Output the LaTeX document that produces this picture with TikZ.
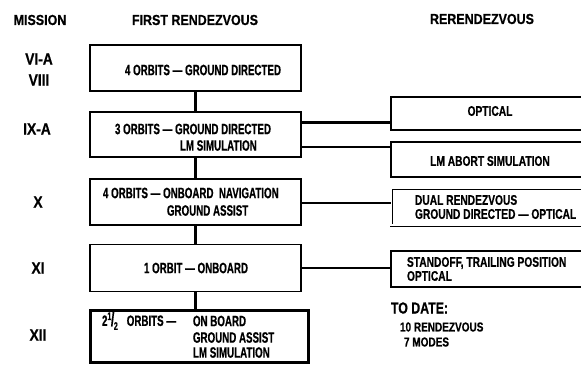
\documentclass[tikz,border=0pt]{standalone}
\usepackage{fontspec}
\setmainfont{Liberation Sans}[FakeStretch=0.65, FakeBold=0.6]
\newfontfamily\rfont{Liberation Sans}[FakeStretch=0.73, FakeBold=0.6]
\newfontfamily\hfont{Liberation Sans}[FakeStretch=0.86, FakeBold=0.6]
\newfontfamily\dfont{Liberation Sans}[FakeStretch=0.77, FakeBold=0.6]
\tikzset{
  every node/.style={inner sep=0pt, outer sep=0pt},
  boxL/.style={draw, line width=1.1pt, minimum width=211pt},
  boxR/.style={draw, line width=1.1pt, minimum width=199pt},
  boxD/.style={draw, line width=0.7pt, double, double distance=1.6pt, minimum width=199pt},
  tl/.style={font=\fontsize{15}{15}\selectfont\bfseries},
  tr/.style={font=\rfont\fontsize{14}{14}\selectfont\bfseries},
  hd/.style={font=\hfont\fontsize{14.5}{14.5}\selectfont\bfseries},
  ms/.style={font=\hfont\fontsize{16}{16}\selectfont\bfseries},
  td/.style={font=\dfont\fontsize{16}{16}\selectfont\bfseries},
  tdsmall/.style={font=\dfont\fontsize{13}{13}\selectfont\bfseries},
  conn/.style={line width=3pt},
  connthin/.style={line width=2pt},
}
\begin{document}
\begin{tikzpicture}[x=1pt,y=-1pt]
\useasboundingbox (0,0) rectangle (581,365);
% headers
\node[hd] (hm) at (40,20) {MISSION};
\node[hd] (hf) at (195,20) {FIRST RENDEZVOUS};
\node[hd] (hr) at (482,19) {RERENDEZVOUS};
% mission labels
\node[ms] (m1) at (39,59) {VI-A};
\node[ms] (m2) at (39,80) {VIII};
\node[ms] (m3) at (37,129) {IX-A};
\node[ms] (m4) at (38,202) {X};
\node[ms] (m5) at (38,268) {XI};
\node[ms] (m6) at (38,335) {XII};
% left boxes
\node[boxL, minimum height=46pt] (b1) at (195.5,68) {};
\node[boxL, minimum height=45pt] (b2) at (195.5,134.5) {};
\node[boxL, minimum height=46pt] (b3) at (195.5,202) {};
\node[boxL, minimum height=47pt] (b4) at (195.5,268) {};
\node[draw, line width=2.6pt, minimum width=218pt, minimum height=52pt] (b5) at (199.5,336.5) {};
% right boxes
\node[boxR, minimum height=33pt] (r1) at (490.5,113.5) {};
\node[boxR, minimum height=35pt] (r2) at (490.5,159.5) {};
\node[boxD, minimum height=37pt] (r3) at (490.5,206.5) {};
\node[boxR, minimum height=36pt] (r4) at (490.5,269) {};
% vertical connectors
\draw[conn] (b1.south) -- (b2.north);
\draw[conn] (b2.south) -- (b3.north);
\draw[conn] (b3.south) -- (b4.north);
\draw[conn] (b4.south) -- (b4.south |- b5.north);
% horizontal connectors
\coordinate (y1) at (0,122);
\coordinate (y2) at (0,147);
\coordinate (y3) at (0,203);
\coordinate (y4) at (0,268);
\draw[conn] (b2.east |- y1) -- (r1.west |- y1);
\draw[connthin] (b2.east |- y2) -- (r2.west |- y2);
\draw[line width=2.5pt] (b3.east |- y3) -- (r3.west |- y3);
\draw[connthin] (b4.east |- y4) -- (r4.west |- y4);
% left box texts
\node[tl] (t1) at (203,70) {4 ORBITS — GROUND DIRECTED};
\node[tl, anchor=west] (t2a) at (115,129) {3 ORBITS — GROUND DIRECTED};
\node[tl, anchor=west] (t2b) at (180,145.5) {LM SIMULATION};
\node[tl, anchor=west] (t3a) at (103,193) {4 ORBITS — ONBOARD\ \ NAVIGATION};
\node[tl, anchor=west] (t3b) at (167,210.5) {GROUND ASSIST};
\node[tl] (t4) at (196,268) {1 ORBIT — ONBOARD};
\node[tl, anchor=west] (t5a) at (102,321) {2\raisebox{0.75ex}{\fontsize{11}{11}\selectfont 1}\kern-0.5pt{\fontsize{19}{19}\selectfont/}\kern-0.5pt\raisebox{-0.5ex}{\fontsize{11}{11}\selectfont 2}\hspace{9pt}ORBITS —};
\node[tl, anchor=west] (t5b) at (193,321) {ON BOARD};
\node[tl, anchor=west] (t5c) at (193,337.5) {GROUND ASSIST};
\node[tl, anchor=west] (t5d) at (193,352.5) {LM SIMULATION};
% right box texts
\node[tr] (s1) at (490,111) {OPTICAL};
\node[tr] (s2) at (490,161) {LM ABORT SIMULATION};
\node[tr, anchor=west] (s3a) at (415,200) {DUAL RENDEZVOUS};
\node[tr, anchor=west] (s3b) at (415,214) {GROUND DIRECTED — OPTICAL};
\node[tr, anchor=west] (s4a) at (407,263) {STANDOFF, TRAILING POSITION};
\node[tr, anchor=west] (s4b) at (407,276) {OPTICAL};
% to date
\node[td, anchor=west] (d1) at (391,308) {TO DATE:};
\node[tdsmall, anchor=west] (d2) at (400,327) {10 RENDEZVOUS};
\node[tdsmall, anchor=west] (d3) at (404,342) {7 MODES};
\end{tikzpicture}
\end{document}
